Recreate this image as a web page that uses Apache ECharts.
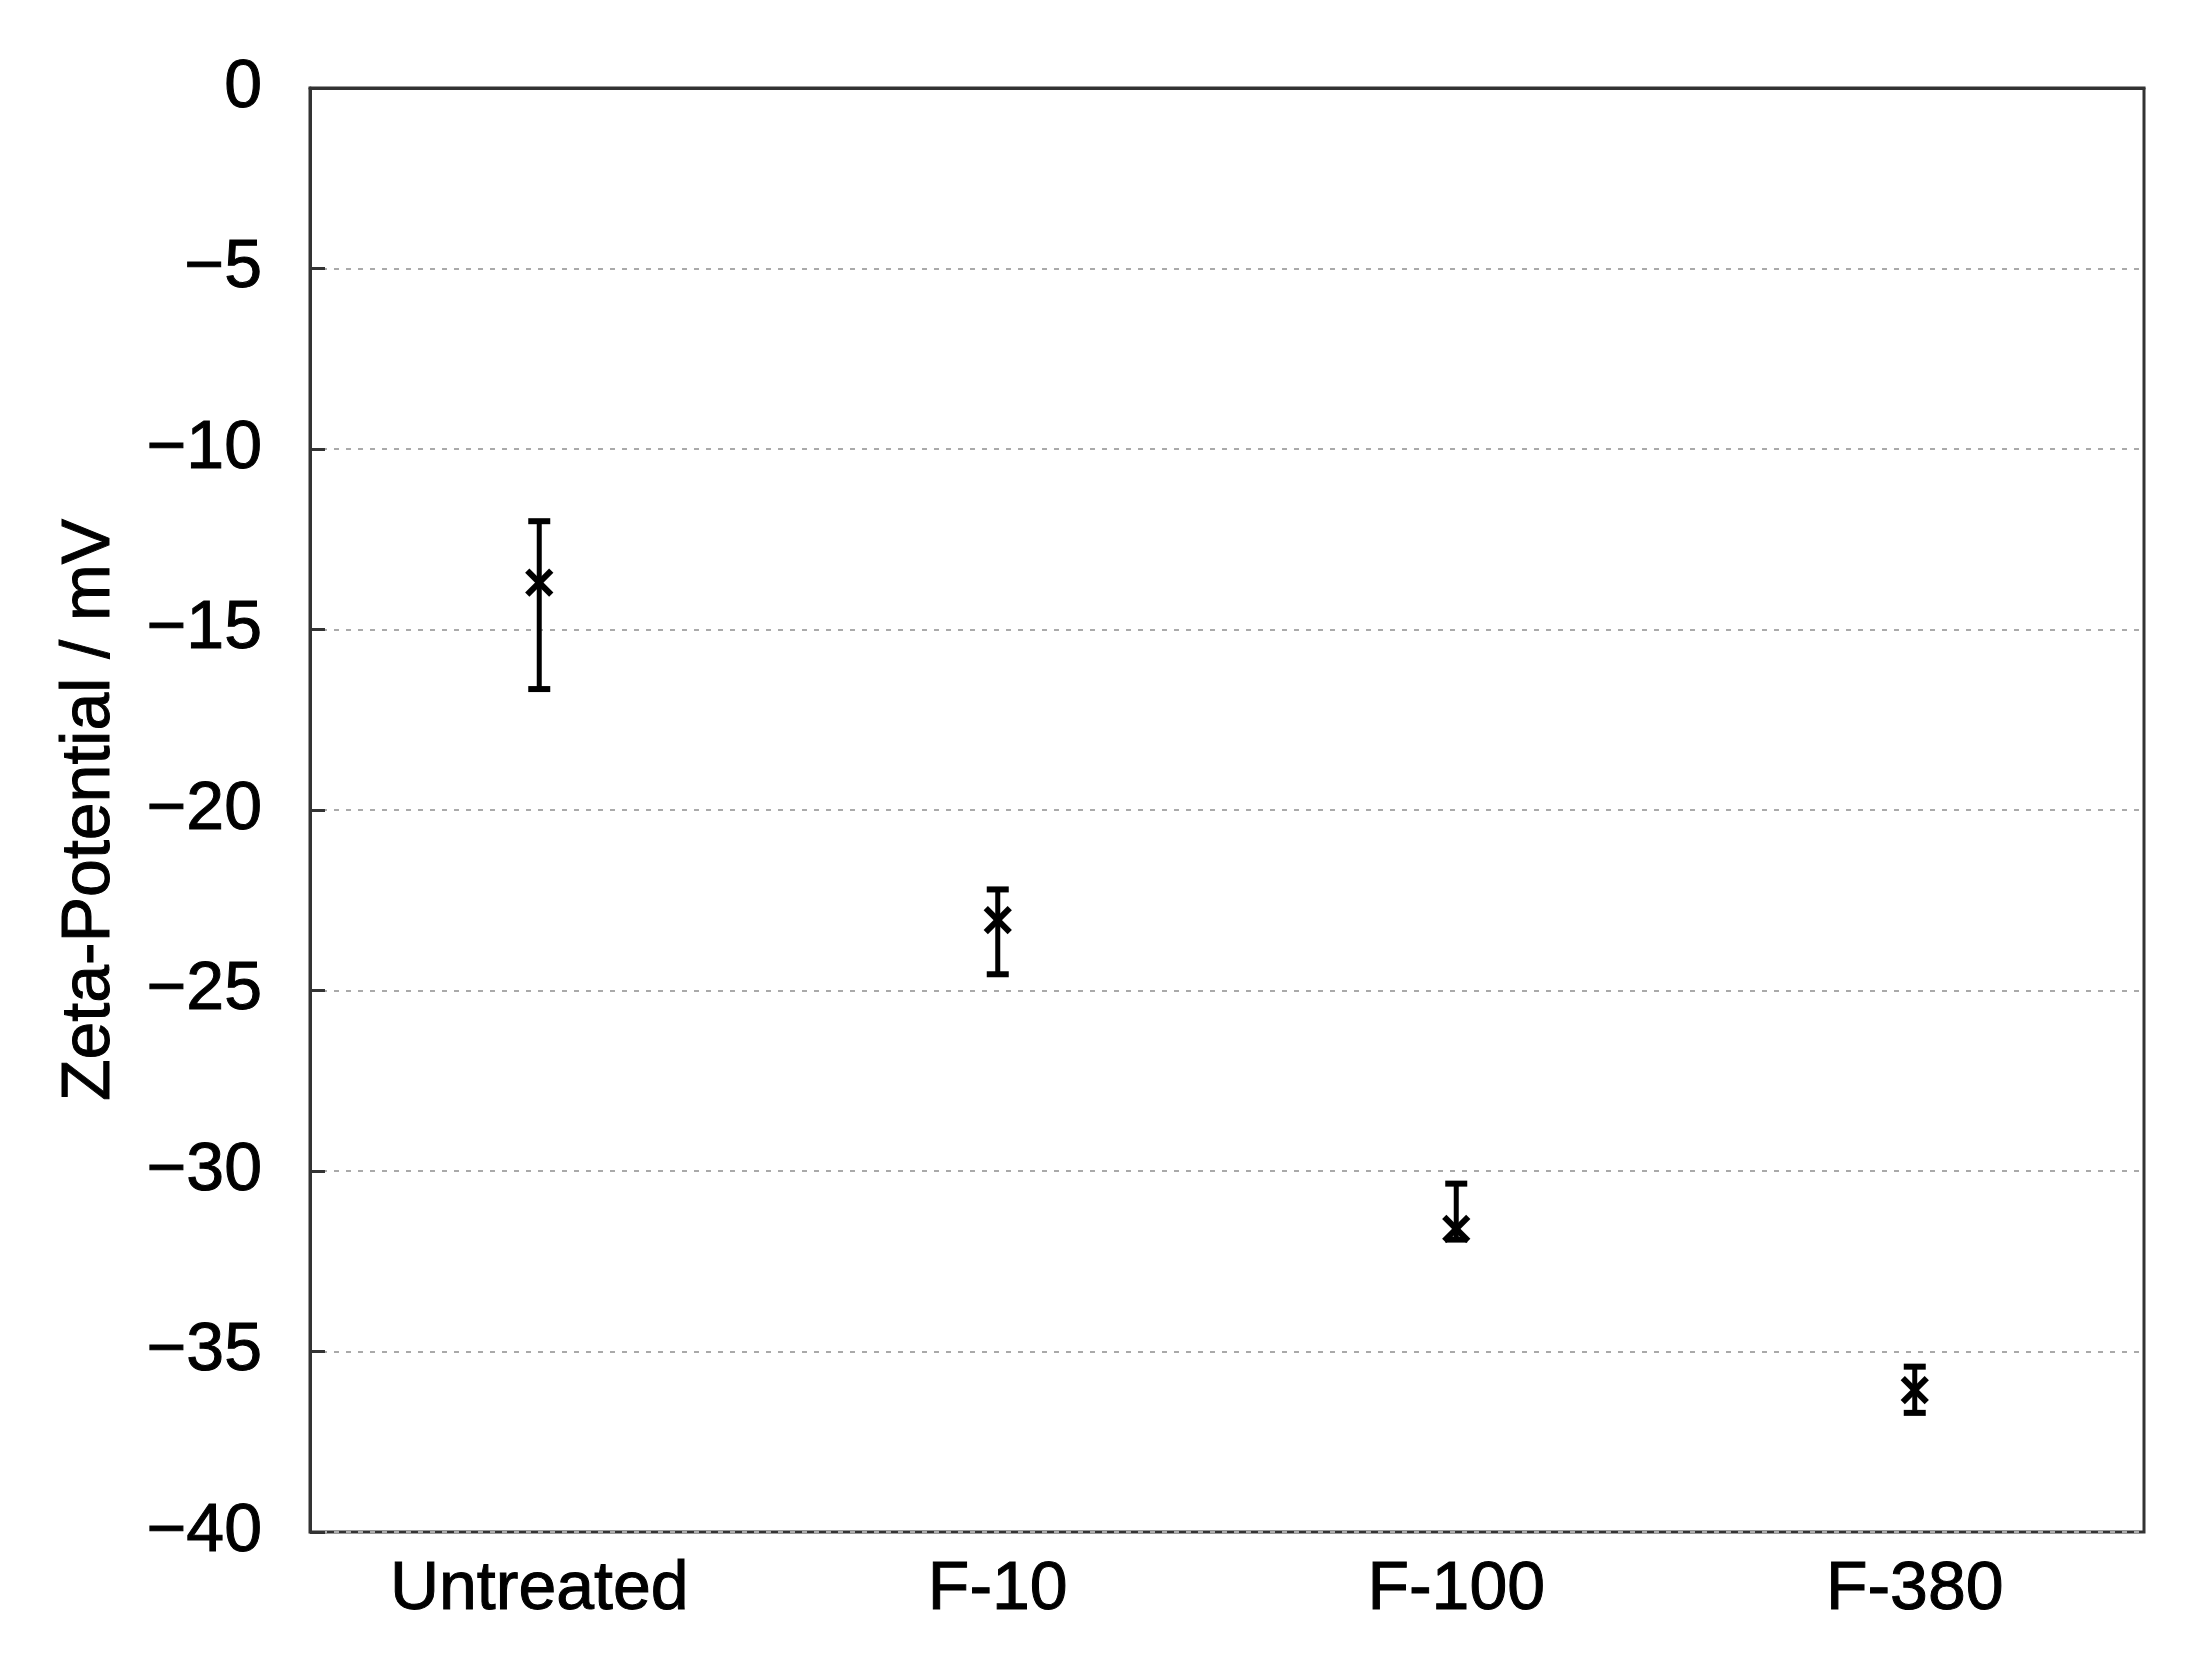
<!DOCTYPE html>
<html>
<head>
<meta charset="utf-8">
<script src="https://cdn.jsdelivr.net/npm/echarts@6/dist/echarts.min.js"></script>
<style>
  html, body { margin: 0; padding: 0; background: #fff; }
  #chart { width: 2197px; height: 1659px; }
</style>
</head>
<body>
<div id="chart"></div>
<script>
// samples and measured zeta potential (mV)
const categories = ["Untreated", "F-10", "F-100", "F-380"];
const means = [-13.7, -23.05, -31.6, -36.07];
const errHigh = [-12.0, -22.2, -30.35, -35.42];
const errLow = [-16.65, -24.55, -31.9, -36.7];
const yTicks = [0, -5, -10, -15, -20, -25, -30, -35, -40];

const FONT = "Liberation Sans, Arial, sans-serif";
const chart = echarts.init(document.getElementById("chart"));

const errData = categories.map((c, i) => [i, errLow[i], errHigh[i], means[i]]);

// slightly heavier text like the original figure
const txt = {color: "#000", fontSize: 68, fontFamily: FONT, textBorderColor: "#000", textBorderWidth: 1};

chart.setOption({
  animation: false,
  backgroundColor: "#fff",
  grid: {
    left: 310, right: 53, top: 88, bottom: 127,
    show: true, borderColor: "#333", borderWidth: 3
  },
  xAxis: {
    type: "category",
    data: categories,
    boundaryGap: true,
    axisLine: {lineStyle: {color: "#333", width: 3}},
    axisTick: {alignWithLabel: true, inside: true, length: 15, lineStyle: {color: "#333", width: 3}},
    axisLabel: Object.assign({margin: 24}, txt),
    splitLine: {show: false}
  },
  yAxis: {
    type: "value",
    min: -40, max: 0, interval: 5,
    name: "Zeta-Potential / mV",
    nameLocation: "middle",
    nameGap: 186,
    nameTextStyle: txt,
    axisLine: {show: true, lineStyle: {color: "#333", width: 3}},
    axisTick: {show: true, inside: true, length: 15, lineStyle: {color: "#333", width: 3}},
    axisLabel: Object.assign({
      margin: 48,
      padding: [0, 0, 6, 0],
      formatter: v => (yTicks.includes(v) ? String(v).replace("-", "\u2212") : "")
    }, txt),
    splitLine: {lineStyle: {color: "#aaa", width: 2, type: [5, 7]}}
  },
  series: [
    {
      type: "custom",
      data: errData,
      encode: {x: 0, y: [1, 2, 3]},
      renderItem: (params, api) => {
        const x = api.value(0);
        const lo = api.coord([x, api.value(1)]);
        const hi = api.coord([x, api.value(2)]);
        const m = api.coord([x, api.value(3)]);
        const cap = 11, s = 12;
        const style = {stroke: "#000", lineWidth: 5};
        const thick = {stroke: "#000", lineWidth: 6};
        return {
          type: "group",
          children: [
            {type: "line", shape: {x1: lo[0], y1: lo[1], x2: hi[0], y2: hi[1]}, style},
            {type: "line", shape: {x1: lo[0] - cap, y1: lo[1], x2: lo[0] + cap, y2: lo[1]}, style: thick},
            {type: "line", shape: {x1: hi[0] - cap, y1: hi[1], x2: hi[0] + cap, y2: hi[1]}, style: thick},
            {type: "line", shape: {x1: m[0] - s, y1: m[1] - s, x2: m[0] + s, y2: m[1] + s}, style: thick},
            {type: "line", shape: {x1: m[0] - s, y1: m[1] + s, x2: m[0] + s, y2: m[1] - s}, style: thick}
          ]
        };
      }
    }
  ]
});
</script>
</body>
</html>
